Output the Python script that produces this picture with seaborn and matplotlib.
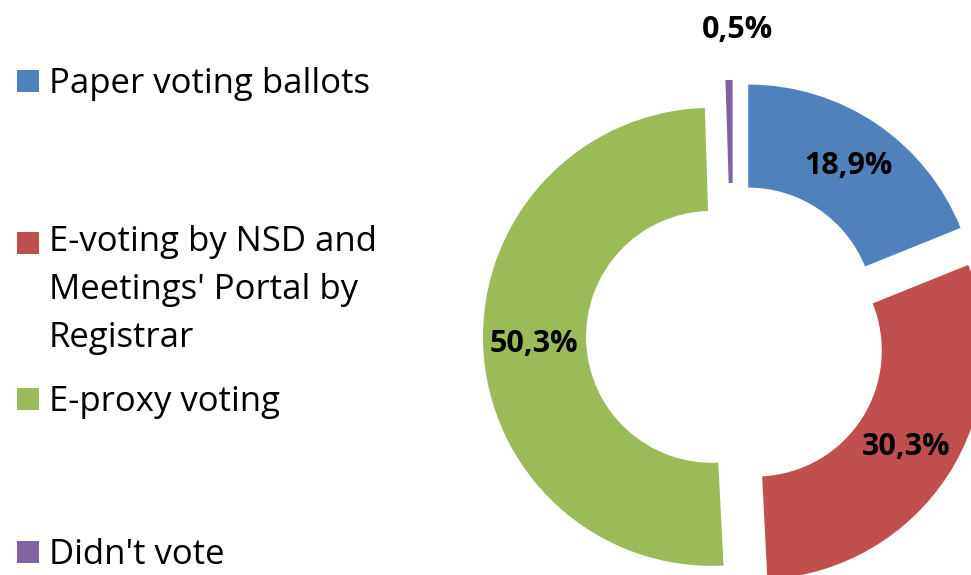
import matplotlib
matplotlib.use("Agg")
import matplotlib.pyplot as plt
import seaborn as sns
from matplotlib.patches import Patch
import numpy as np

# Datos del gráfico
categorias = ["Paper voting ballots",
              "E-voting by NSD and\nMeetings' Portal by\nRegistrar",
              "E-proxy voting",
              "Didn't vote"]
valores = [18.9, 30.3, 50.3, 0.5]
colores = ["#4F81BD", "#C0504D", "#9BBB59", "#8064A2"]

sns.set_theme(style="white")
plt.rcParams["font.family"] = ["Open Sans", "DejaVu Sans"]
plt.rcParams["text.color"] = "black"

fig = plt.figure(figsize=(9.71, 5.75), dpi=100)
ax = fig.add_axes([0, 0, 1, 1])

# Donut con porciones separadas
explode = [0.118, 0.118, 0.092, 0.118]
wedges, textos, autotextos = ax.pie(
    valores,
    colors=colores,
    startangle=90,
    counterclock=False,
    explode=explode,
    radius=1,
    wedgeprops=dict(width=0.45, linewidth=0),
    autopct=lambda p: f"{p:.1f}%".replace(".", ","),
    pctdistance=0.78,
    textprops=dict(fontsize=22, fontweight="bold", color="black"),
)

# Etiqueta de la porción pequeña fuera del anillo
w = wedges[3]
autotextos[3].set_position((w.center[0] + 0.02, w.center[1] + 1.22 * w.r))

ax.set_xlim(-3.201, 1.039)
ax.set_ylim(-1.0437, 1.467)
ax.set_aspect("auto")
ax.axis("off")

# Leyenda: una entrada por bloque, como en el original
pos_y = [84, 290, 402, 555]
for cat, col, y in zip(categorias, colores, pos_y):
    leg = fig.legend(handles=[Patch(facecolor=col, edgecolor="none")],
                     labels=[cat],
                     loc="center left",
                     bbox_to_anchor=(0.0175, 1 - y / 575),
                     frameon=False,
                     fontsize=25,
                     borderpad=0,
                     borderaxespad=0,
                     handlelength=0.62,
                     handleheight=0.62,
                     handletextpad=0.3)
    for t in leg.get_texts():
        t.set_linespacing(1.53)
    # el cuadrado se alinea con la primera línea del texto
    n_lineas = cat.count("\n")
    if n_lineas:
        p = leg.get_patches()[0]
        p.set_y(p.get_y() + n_lineas * 48 * 72 / 100 / 2)

fig.savefig("out.png", dpi=100)
